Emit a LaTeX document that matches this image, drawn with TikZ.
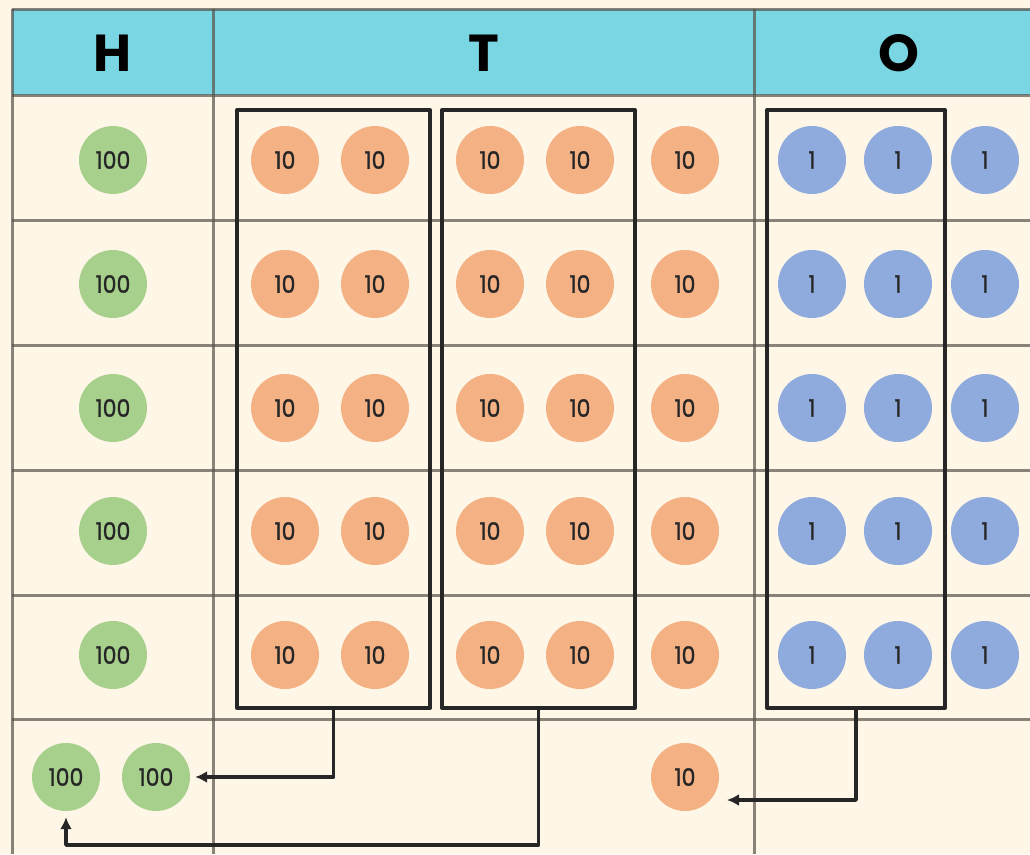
\documentclass[tikz,border=0pt]{standalone}
\usepackage{fontspec}
\setmainfont{Poppins}
\newfontfamily\chipfont{Poppins}[FakeBold=1.2]
\usetikzlibrary{arrows.meta,positioning}
\definecolor{paper}{HTML}{FEF6E7}
\definecolor{headcyan}{HTML}{7AD6E3}
\definecolor{hundgreen}{HTML}{A8D08D}
\definecolor{tenorange}{HTML}{F4B183}
\definecolor{oneblue}{HTML}{8FAADC}
\definecolor{gridgrey}{HTML}{57524A}
\newcommand\chiptext[1]{\scalebox{0.92}[1]{#1}}

\begin{document}
\begin{tikzpicture}[x=1pt, y=-1pt, line join=round,
  gridline/.style={draw=gridgrey, draw opacity=0.7, line width=3pt},
  headtext/.style={font=\fontsize{52}{52}\selectfont\bfseries},
  coin/.style={circle, minimum size=68pt, inner sep=0pt, text=black!85,
    font=\fontsize{24}{24}\chipfont},
  hund/.style={coin, fill=hundgreen},
  ten/.style={coin, fill=tenorange},
  one/.style={coin, fill=oneblue},
  groupbox/.style={draw=black!85, line width=4pt, inner sep=0pt,
    minimum width=193pt, minimum height=598pt},
  carry/.style={draw=black!85, line width=3.5pt,
    -{Latex[length=12pt,width=12pt]}}]
\fill[paper] (0,0) rectangle (1030,854);
\useasboundingbox (0,0) rectangle (1030,854);
% table
\fill[headcyan] (12,9) rectangle (1030,95);
\foreach \y in {9,95,220,345,470,595,719}
  \draw[gridline] (12,\y) -- (1030,\y);
\foreach \x in {12,213,754}
  \draw[gridline] (\x,9) -- (\x,854);
\node[headtext] (hH) at (113,53) {H};
\node[headtext] (hT) at (484,53) {T};
\node[headtext] (hO) at (899,53) {O};
% counters
\foreach \y [count=\r] in {160,284,408,531,655} {
  \node[hund] (h\r) at (113,\y) {\chiptext{100}};
  \foreach \x [count=\c] in {285,375,490,580,685}
    \node[ten] (t\r\c) at (\x,\y) {\chiptext{10}};
  \foreach \x [count=\c] in {812,898,985}
    \node[one] (o\r\c) at (\x,\y) {\chiptext{1}};
}
\node[hund] (newA) at (66,777) {\chiptext{100}};
\node[hund] (newB) at (156,777) {\chiptext{100}};
\node[ten] (newT) at (685,777) {\chiptext{10}};
% groups of ten
\node[groupbox] (g1) at (333.5,409) {};
\node[groupbox] (g2) at (538.5,409) {};
\node[groupbox, minimum width=178pt] (g3) at (856,409) {};
% regrouping
\coordinate (low) at (66,845);
\coordinate (tipO) at (727,800);
\draw[carry, shorten >=5pt] (g1.south) |- (newB.east);
\draw[carry, shorten >=6pt] (g2.south) |- (low) -- (newA.south);
\draw[carry] (g3.south) |- (tipO);
\end{tikzpicture}
\end{document}
